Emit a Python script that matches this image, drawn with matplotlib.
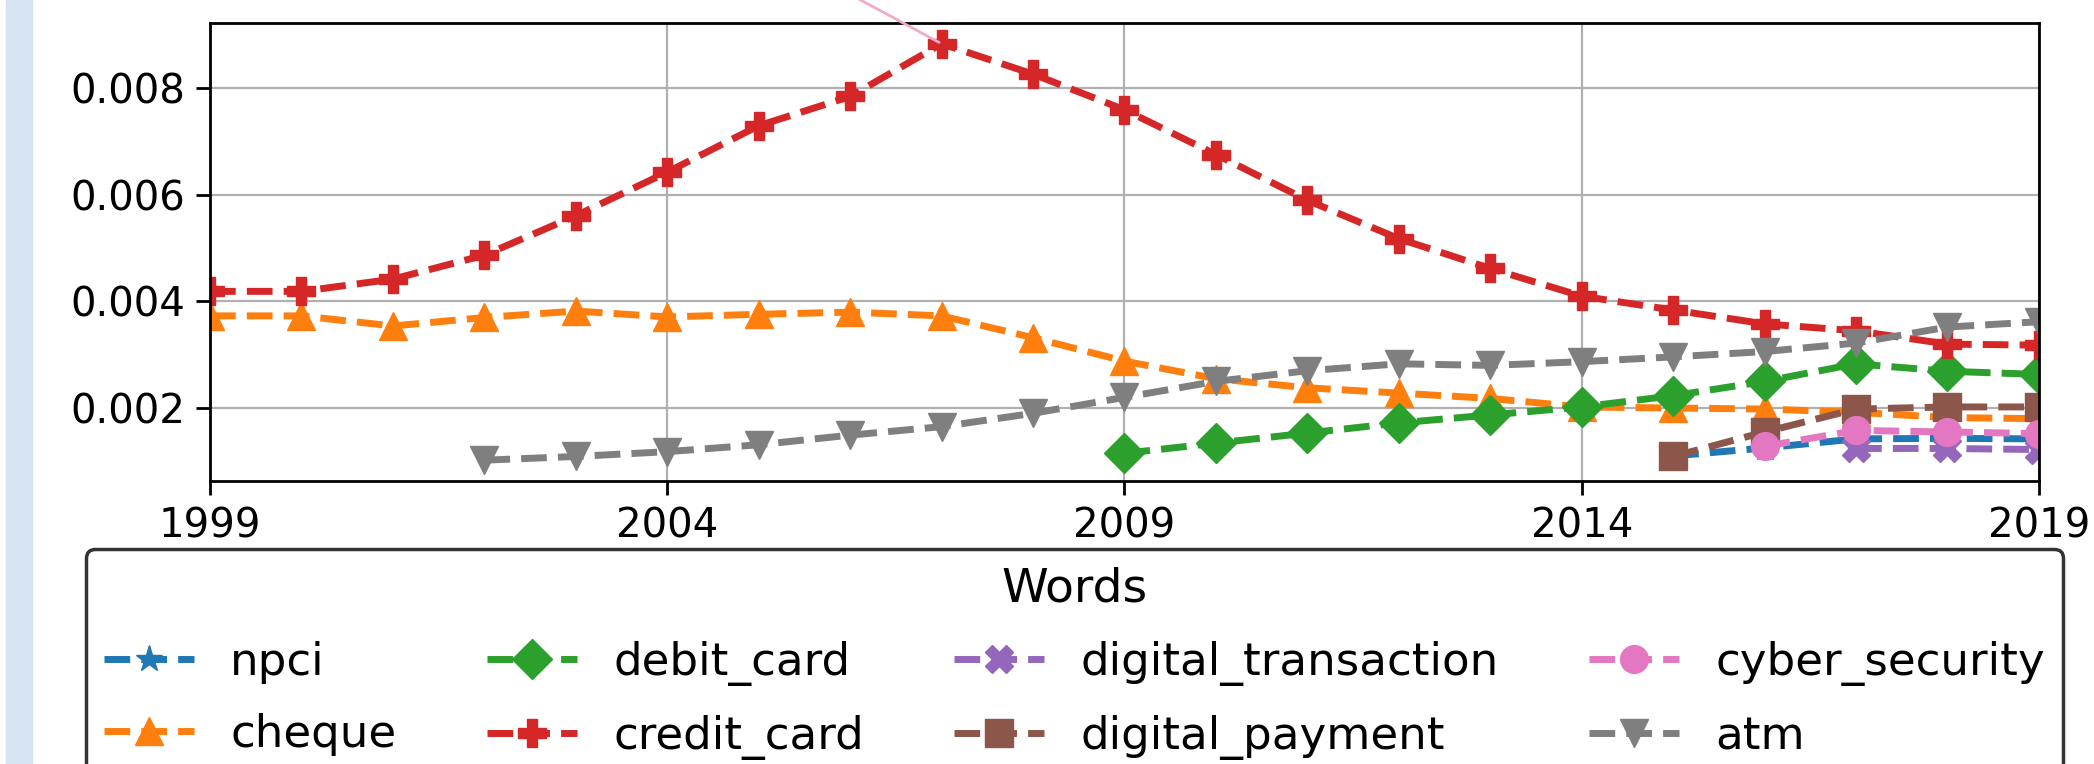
import matplotlib
matplotlib.use('Agg')
import matplotlib.pyplot as plt
from matplotlib.patches import Rectangle

years = list(range(1999, 2020))

npci_years = [2015, 2016, 2017, 2018, 2019]
npci = [0.00110, 0.00125, 0.00142, 0.00143, 0.00142]

cheque = [0.00373, 0.00373, 0.00354, 0.00370, 0.00382, 0.00371, 0.00376, 0.00380,
          0.00373, 0.00332, 0.00288, 0.00255, 0.00238, 0.00228, 0.00218, 0.00202,
          0.00200, 0.00198, 0.00192, 0.00182, 0.00180]

debit_years = list(range(2009, 2020))
debit_card = [0.00115, 0.00134, 0.00153, 0.00172, 0.00187, 0.00202, 0.00223,
              0.00250, 0.00283, 0.00269, 0.00263]

credit_card = [0.00419, 0.00419, 0.00442, 0.00487, 0.00561, 0.00643, 0.00730, 0.00785,
               0.00884, 0.00827, 0.00760, 0.00676, 0.00590, 0.00518, 0.00462, 0.00410,
               0.00384, 0.00358, 0.00345, 0.00320, 0.00318]

dtrans_years = [2017, 2018, 2019]
digital_transaction = [0.00124, 0.00124, 0.00122]

dpay_years = [2015, 2016, 2017, 2018, 2019]
digital_payment = [0.00109, 0.00155, 0.00198, 0.00202, 0.00202]

cyber_years = [2016, 2017, 2018, 2019]
cyber_security = [0.00128, 0.00158, 0.00155, 0.00152]

atm_years = list(range(2002, 2020))
atm = [0.00102, 0.00109, 0.00118, 0.00131, 0.00149, 0.00165, 0.00190, 0.00220, 0.00250,
       0.00270, 0.00283, 0.00280, 0.00287, 0.00296, 0.00306, 0.00322, 0.00352, 0.00362]

series = [
    ('npci', npci_years, npci, '*'),
    ('cheque', years, cheque, '^'),
    ('debit_card', debit_years, debit_card, 'D'),
    ('credit_card', years, credit_card, 'P'),
    ('digital_transaction', dtrans_years, digital_transaction, 'X'),
    ('digital_payment', dpay_years, digital_payment, 's'),
    ('cyber_security', cyber_years, cyber_security, 'o'),
    ('atm', atm_years, atm, 'v'),
]
xticks = [1999, 2004, 2009, 2014, 2019]

fig = plt.figure(figsize=(20.94, 7.64), dpi=100)
fig.patches.append(Rectangle((0.003, 0), 0.0125, 1, transform=fig.transFigure,
                             color='#d6e4f1', zorder=0))
ax = fig.add_axes([0.1003, 0.3704, 0.8734, 0.5996])

for name, xs, ys, mk in series:
    ax.plot(xs, ys, linestyle='--', marker=mk, linewidth=5, markersize=20, label=name)

# pink leader line coming in from outside the crop
ax.annotate('', xy=(2007, credit_card[8]), xytext=(-100, 54), textcoords='offset pixels',
            arrowprops=dict(arrowstyle='-', color='#f4a9c8', lw=2),
            annotation_clip=False)

ax.set_xlim(1999, 2019)
ax.set_xticks(xticks)
ax.set_yticks([0.002, 0.004, 0.006, 0.008])
ax.grid(True, color='#b0b0b0', linewidth=1.6)
ax.tick_params(labelsize=29, length=10, width=2, pad=8)
for s in ax.spines.values():
    s.set_linewidth(2)

leg = ax.legend(title='Words', ncol=4, loc='upper left', bbox_to_anchor=(0.041, 0.282),
                bbox_transform=fig.transFigure, fontsize=32.5, title_fontsize=34,
                edgecolor='#333333', framealpha=1, borderaxespad=0, labelspacing=0.65)
leg.get_frame().set_linewidth(2.5)

fig.savefig('out.png', dpi=100)
